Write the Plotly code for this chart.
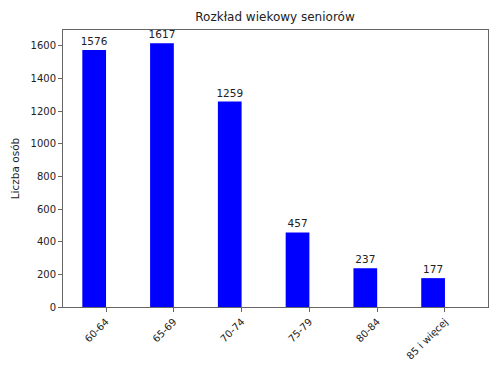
import plotly.graph_objects as go

categories = ["60-64", "65-69", "70-74", "75-79", "80-84", "85 i więcej"]
values = [1576, 1617, 1259, 457, 237, 177]
positions = list(range(len(categories)))

fig = go.Figure()
fig.add_trace(go.Bar(
    x=positions, y=values, width=0.35, offset=-0.35,
    marker=dict(color="#0000ff", line=dict(width=0)),
    text=[str(v) for v in values], textposition="outside", constraintext="none",
    textfont=dict(size=10.5, color="#222222"), cliponaxis=False,
))

axis_common = dict(showline=True, linecolor="#666666", linewidth=1, mirror=True,
                   ticks="outside", ticklen=4, tickcolor="#666666", showgrid=False,
                   zeroline=False, tickfont=dict(size=10, color="#222222"))

fig.update_layout(
    width=500, height=375,
    margin=dict(l=63, r=12, t=30, b=68),
    paper_bgcolor="white", plot_bgcolor="white",
    font=dict(family="DejaVu Sans", color="#222222"),
    title=dict(text="Rozkład wiekowy seniorów", x=0.55, xanchor="center", y=0.955, yanchor="middle",
               font=dict(size=12, color="#222222")),
    showlegend=False,
    xaxis=dict(range=[-0.635, 5.635], tickvals=positions, ticktext=categories, tickangle=-45,
               **axis_common),
    yaxis=dict(range=[0, 1698], tickvals=[0, 200, 400, 600, 800, 1000, 1200, 1400, 1600],
               title=dict(text="Liczba osób", font=dict(size=10.5), standoff=8), **axis_common),
)

fig.write_html("out.html")
